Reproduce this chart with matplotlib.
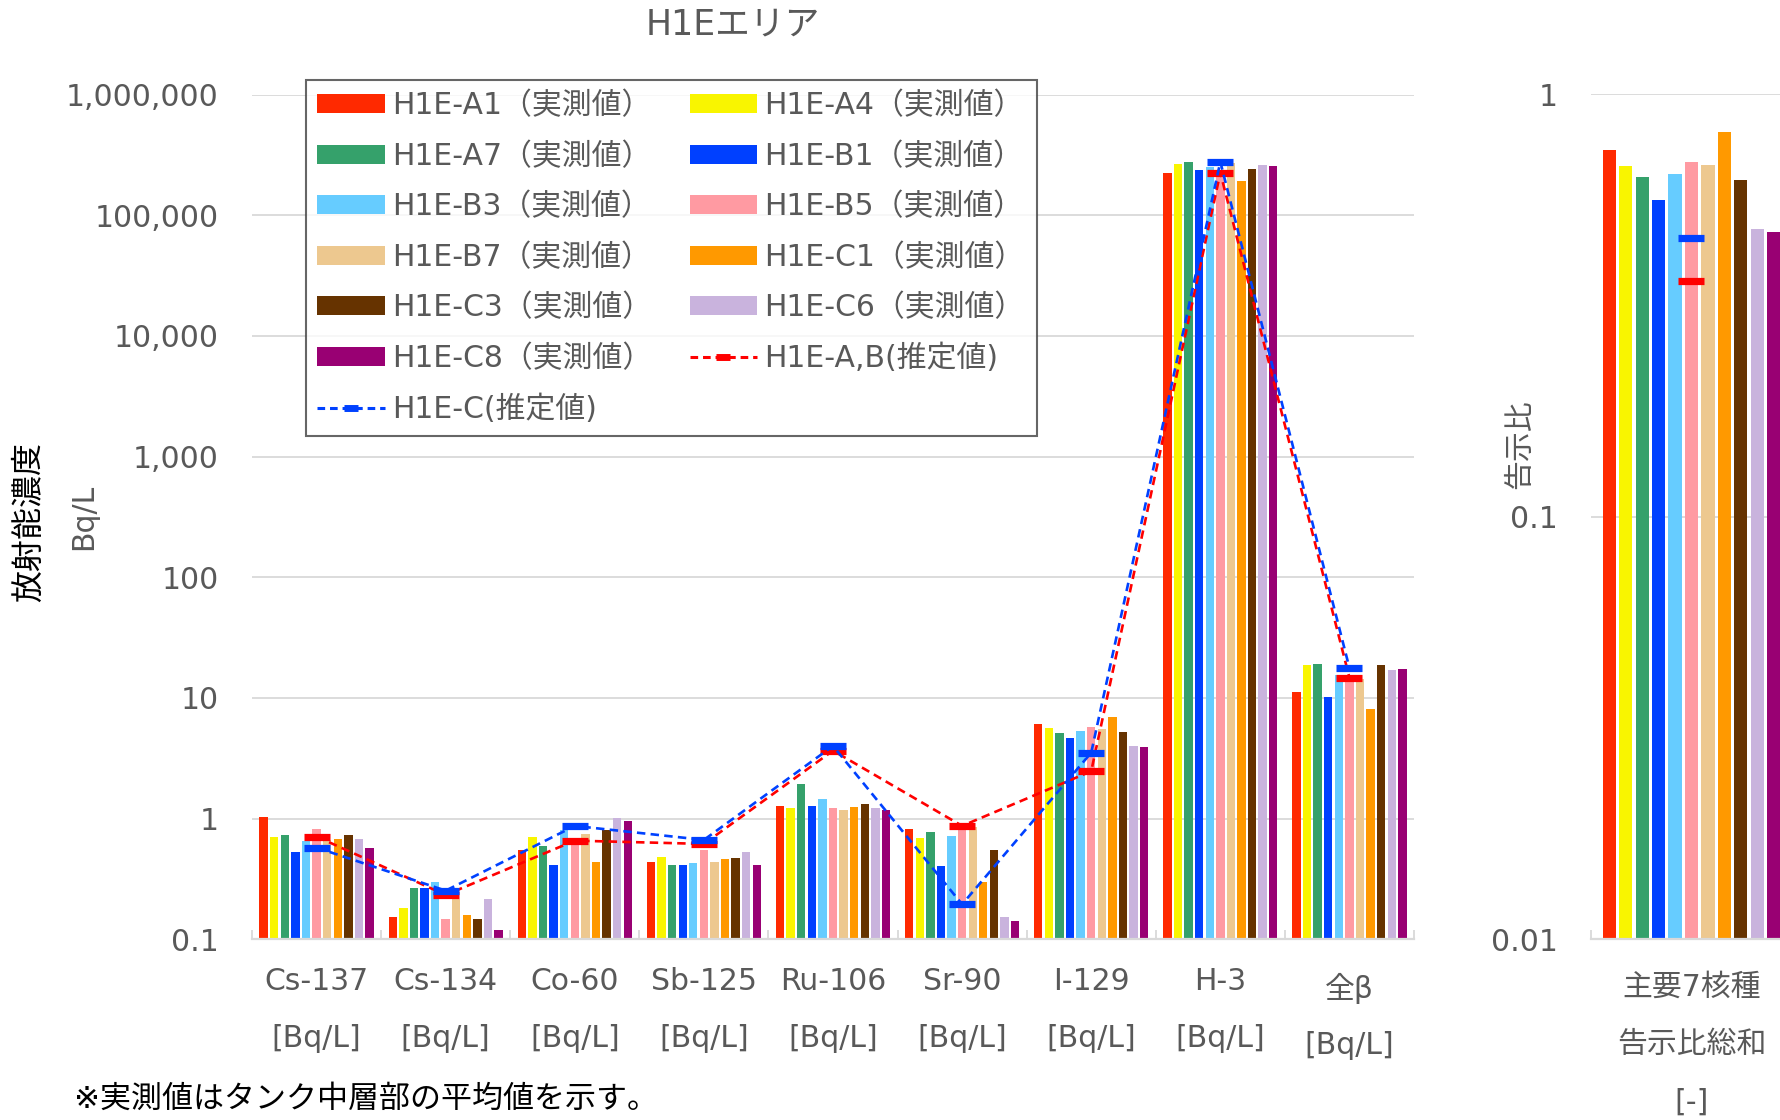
import numpy as np
import matplotlib
matplotlib.use("Agg")
import matplotlib.pyplot as plt
from matplotlib.lines import Line2D
from matplotlib.patches import Patch
from matplotlib.ticker import FixedLocator, FuncFormatter

plt.rcParams['font.family'] = ['DejaVu Sans', 'Noto Sans CJK JP']

# ---------------- data ----------------
nuclides = ['Cs-137', 'Cs-134', 'Co-60', 'Sb-125', 'Ru-106', 'Sr-90', 'I-129', 'H-3', '全β']
units = ['[Bq/L]'] * 9

tanks = ['H1E-A1', 'H1E-A4', 'H1E-A7', 'H1E-B1', 'H1E-B3', 'H1E-B5',
         'H1E-B7', 'H1E-C1', 'H1E-C3', 'H1E-C6', 'H1E-C8']
colors = ['#FF2900', '#F9F500', '#35A16B', '#0040FF', '#66CCFF', '#FF9AA2',
          '#EDC88F', '#FF9900', '#663300', '#C9B3DD', '#990073']

A1 = [1.04, 0.154, 0.55, 0.435, 1.27, 0.816, 6.1, 225000, 11.3]
A4 = [0.705, 0.182, 0.705, 0.478, 1.22, 0.687, 5.65, 265000, 18.8]
A7 = [0.728, 0.265, 0.597, 0.41, 1.94, 0.776, 5.16, 274000, 19.1]
B1 = [0.533, 0.267, 0.41, 0.413, 1.27, 0.408, 4.7, 235000, 10.2]
B3 = [0.653, 0.299, 0.805, 0.432, 1.45, 0.714, 5.34, 252000, 15.5]
B5 = [0.817, 0.146, 0.66, 0.547, 1.22, 0.85, 5.73, 230000, 15.0]
B7 = [0.66, 0.216, 0.751, 0.435, 1.18, 0.86, 5.57, 270000, 14.3]
C1 = [0.675, 0.159, 0.437, 0.463, 1.26, 0.30, 6.97, 191000, 8.17]
C3 = [0.728, 0.1465, 0.805, 0.472, 1.32, 0.553, 5.2, 243000, 18.6]
C6 = [0.68, 0.217, 1.02, 0.53, 1.23, 0.153, 3.98, 263000, 17.2]
C8 = [0.571, 0.119, 0.95, 0.413, 1.18, 0.142, 3.95, 257000, 17.3]
measured = [A1, A4, A7, B1, B3, B5, B7, C1, C3, C6, C8]

est_AB = [0.71, 0.233, 0.657, 0.617, 3.66, 0.87, 2.47, 225000, 14.7]
est_C = [0.575, 0.253, 0.87, 0.666, 4.0, 0.195, 3.52, 277000, 17.7]

ratio_label = ['主要7核種', '告示比総和', '[-]']
ratio_measured = [0.738, 0.676, 0.637, 0.562, 0.648, 0.691, 0.680, 0.814, 0.627, 0.479, 0.473]
ratio_AB = 0.362
ratio_C = 0.458

left_ticks = [0.1, 1, 10, 100, 1000, 10000, 100000, 1000000]
right_ticks = [0.01, 0.1, 1]

# ---------------- style ----------------
W, H = 1781, 1120
fig = plt.figure(figsize=(W / 100, H / 100), dpi=100)
GRID = '#D9D9D9'
TXT = '#595959'
FS = 21.5
RED = '#FF0000'
BLUE = '#0041FF'
pitch, bw = 0.082, 0.065

def fx(px):
    return px / W

def fy(py):
    return 1 - py / H

ax = fig.add_axes([fx(252), fy(939.3), fx(1414 - 252), (939.3 - 94.5) / H])
ax2 = fig.add_axes([fx(1591), fy(939.3), fx(201), (939.3 - 94.3) / H])

def style_axis(a, xlim, ylim, ticks, fmt, pad):
    a.set_yscale('log')
    a.set_ylim(*ylim)
    a.set_xlim(*xlim)
    for s in ['left', 'right', 'top']:
        a.spines[s].set_visible(False)
    a.spines['bottom'].set_color(GRID)
    a.spines['bottom'].set_linewidth(1.6)
    a.yaxis.set_major_locator(FixedLocator(ticks))
    a.yaxis.set_minor_locator(FixedLocator([]))
    a.yaxis.set_major_formatter(FuncFormatter(fmt))
    a.tick_params(axis='y', length=0, pad=pad, labelsize=FS, labelcolor=TXT)
    a.set_axisbelow(True)
    a.grid(axis='y', color=GRID, lw=1.3)
    a.set_xticks([])
    a.set_xticks(np.arange(xlim[0], xlim[1] + 0.01, 1.0), minor=True)
    a.tick_params(axis='x', which='minor', direction='in', length=6.5, width=1.3, color=GRID)

def fmt_left(v, p):
    if v < 1:
        return f'{v:g}'
    return f'{int(round(v)):,}'

def fmt_right(v, p):
    return f'{v:g}'

style_axis(ax, (-0.5, 8.5), (0.1, 1e6), left_ticks, fmt_left, 24)
style_axis(ax2, (-0.5, 0.5), (0.01, 1), right_ticks, fmt_right, 24)

x = np.arange(len(nuclides))
for j, (vals, c, name) in enumerate(zip(measured, colors, tanks)):
    ax.bar(x + (j - 5) * pitch, vals, width=bw, color=c, zorder=2)
    ax2.bar([(j - 5) * pitch], [ratio_measured[j]], width=bw, color=c, zorder=2)

line_kw = dict(ls=(0, (3.2, 2.0)), lw=1.9, marker='_', ms=19, mew=5.2, zorder=4)
ax.plot(x, est_AB, color=RED, **line_kw)
ax.plot(x, est_C, color=BLUE, **line_kw)
ax2.plot([0], [ratio_AB], color=RED, **line_kw, clip_on=False)
ax2.plot([0], [ratio_C], color=BLUE, **line_kw, clip_on=False)

# x category labels
for i, (n, u) in enumerate(zip(nuclides, units)):
    extra = -7 if not n.isascii() else 0
    ax.annotate(n, xy=(i, 0), xycoords=ax.get_xaxis_transform(), xytext=(0, -42 + extra),
                textcoords='offset pixels', ha='center', va='center', fontsize=FS, color=TXT)
    ax.annotate(u, xy=(i, 0), xycoords=ax.get_xaxis_transform(), xytext=(0, -99 + extra),
                textcoords='offset pixels', ha='center', va='center', fontsize=FS, color=TXT)
for k, t in enumerate(ratio_label):
    ax2.annotate(t, xy=(0, 0), xycoords=ax2.get_xaxis_transform(), xytext=(0, -48 - 57.5 * k),
                 textcoords='offset pixels', ha='center', va='center', fontsize=FS, color=TXT,
                 annotation_clip=False)

# texts
fig.text(fx(733), fy(25), 'H1Eエリア', ha='center', va='center', fontsize=25, color=TXT)
fig.text(fx(30), fy(522), '放射能濃度', rotation=90, ha='center', va='center', fontsize=23, color='black')
fig.text(fx(84), fy(517), 'Bq/L', rotation=90, ha='center', va='center', fontsize=FS, color=TXT)
fig.text(fx(1520), fy(444), '告示比', rotation=90, ha='center', va='center', fontsize=FS, color=TXT)
fig.text(fx(74), fy(1099), '※実測値はタンク中層部の平均値を示す。', ha='left', va='center',
         fontsize=22.3, color='black')

# legend (row-wise order like the reference)
items_h = [Patch(facecolor=c, edgecolor='none') for c in colors]
items_l = [t + '（実測値）' for t in tanks]
items_h.append(Line2D([], [], color=RED, ls=(0, (2.5, 1.6)), lw=2.2, marker='_', ms=10, mew=5))
items_l.append('H1E-A,B(推定値)')
items_h.append(Line2D([], [], color=BLUE, ls=(0, (2.5, 1.6)), lw=2.2, marker='_', ms=10, mew=5))
items_l.append('H1E-C(推定値)')
handles = items_h[0::2] + items_h[1::2]
labels = items_l[0::2] + items_l[1::2]

leg = fig.legend(handles, labels, ncol=2, loc='upper left', bbox_to_anchor=(fx(305.5), fy(79.5)),
                 borderaxespad=0, fontsize=FS, frameon=True, fancybox=False,
                 handlelength=2.25, handleheight=0.6, handletextpad=0.25, columnspacing=1.25,
                 labelspacing=0.72, borderpad=0.4)
leg.get_frame().set_edgecolor('#404040')
leg.get_frame().set_linewidth(1.5)
for t in leg.get_texts():
    t.set_color(TXT)
leg.set_zorder(10)

fig.savefig('out.png', dpi=100)
